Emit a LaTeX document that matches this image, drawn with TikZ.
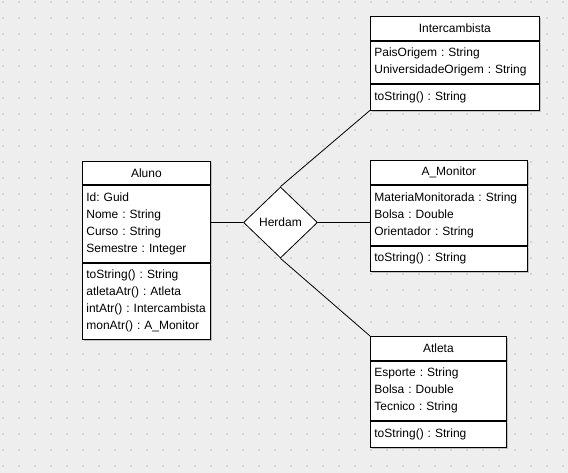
\documentclass[tikz,border=0pt]{standalone}
\usepackage{fontspec}
\setmainfont{Liberation Sans}
\usetikzlibrary{positioning}
\usetikzlibrary{shapes.geometric}
\usetikzlibrary{shadows}
\definecolor{canvas}{RGB}{238,238,238}
\definecolor{griddot}{RGB}{214,214,214}
\definecolor{shade}{RGB}{192,192,192}
\frenchspacing
\hyphenpenalty=10000
\tikzset{
 umltext/.style={font=\fontsize{12}{17}\selectfont},
 umlhead/.style={draw, fill=white, umltext, inner sep=0pt, minimum width=#1, minimum height=24pt,
   anchor=north west, general shadow={fill=shade, shadow xshift=2pt, shadow yshift=-2pt}},
 umlpart/.style 2 args={draw, fill=white, umltext, align=left, inner xsep=4pt, inner ysep=0pt,
   text width=#1, minimum height=#2,
   general shadow={fill=shade, shadow xshift=2pt, shadow yshift=-2pt}},
 link/.style={draw, black, line width=.8pt},
}
\begin{document}
\begin{tikzpicture}[x=1pt, y=-1pt, line width=.8pt]
\useasboundingbox (0,0) rectangle (568,473);
\fill[canvas] (0,0) rectangle (568,473);
\foreach \x in {2,18,...,562} {
 \foreach \y in {1,17,...,465} {
  \fill[griddot] (\x,\y) rectangle ++(2,2);
 }
}
% Intercambista
\node[umlhead=169pt] (interHead) at (370,16) {Intercambista};
\node[umlpart={161pt}{42pt}, below=0pt of interHead] (interAttr)
 {PaisOrigem : String\\UniversidadeOrigem : String};
\node[umlpart={161pt}{26pt}, below=0pt of interAttr] (interMeth) {toString() : String};
% Aluno
\node[umlhead=128pt, minimum height=23pt] (alunoHead) at (82,161) {Aluno};
\node[umlpart={120pt}{77pt}, below=0pt of alunoHead] (alunoAttr)
 {Id: Guid\\Nome : String\\Curso : String\\Semestre : Integer};
\node[umlpart={120pt}{76pt}, below=0pt of alunoAttr] (alunoMeth)
 {toString() : String\\atletaAtr() : Atleta\\intAtr() : Intercambista\\monAtr() : A\_Monitor};
% A_Monitor
\node[umlhead=157pt] (monHead) at (370,160) {A\_Monitor};
\node[umlpart={149pt}{60pt}, below=0pt of monHead] (monAttr)
 {MateriaMonitorada : String\\Bolsa : Double\\Orientador : String};
\node[umlpart={149pt}{25pt}, below=0pt of monAttr] (monMeth) {toString() : String};
% Atleta
\node[umlhead=136pt] (atlHead) at (370,336) {Atleta};
\node[umlpart={128pt}{59pt}, below=0pt of atlHead] (atlAttr)
 {Esporte : String\\Bolsa : Double\\Tecnico : String};
\node[umlpart={128pt}{26pt}, below=0pt of atlAttr] (atlMeth) {toString() : String};
% heranca
\node[diamond, draw, fill=white, umltext, inner sep=0pt, minimum width=74pt, minimum height=71pt]
 (herdam) at (280.5,222.5) {Herdam};
\draw[link] (herdam.west) -- (herdam.west -| alunoAttr.east);
\draw[link] (herdam.east) -- (herdam.east -| monAttr.west);
\draw[link] (herdam.north) -- (interMeth.south west);
\draw[link] (herdam.south) -- (atlHead.north west);
\end{tikzpicture}
\end{document}
